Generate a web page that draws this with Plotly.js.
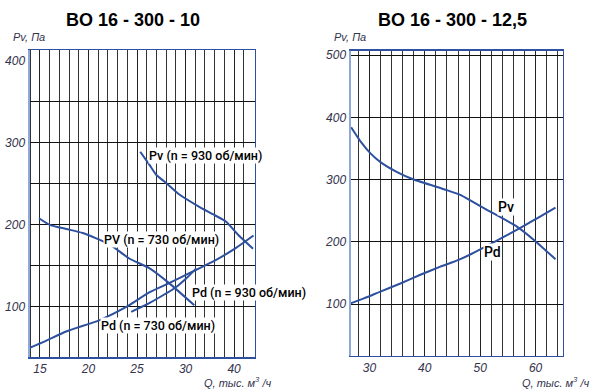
<!DOCTYPE html>
<html>
<head>
<meta charset="utf-8">
<script src="https://cdn.plot.ly/plotly-3.0.1.min.js"></script>
<style>html,body{margin:0;padding:0;background:#fff;}#chart{width:603px;height:389px;}</style>
</head>
<body>
<div id="chart"></div>
<script>
// ---- Left chart: ВО 16-300-10 ----
const leftTitle = "BO 16 - 300 - 10";
const pv930Q = [25.33, 26.28, 26.97, 28.0, 29.36, 31.41, 32.8, 34.15, 35.41, 36.95];
const pv930P = [289, 273, 261, 251, 237, 222, 213, 204, 188, 171];
const pv730Q = [14.9, 16.0, 17.7, 19.4, 22.2, 24.2, 26.3, 28.3, 30.9];
const pv730P = [208, 200, 195, 190, 176, 159, 147, 129, 102];
const pd930Q = [13.9, 15.5, 17.7, 21.15, 23.9, 26.3, 28.3, 30.7, 33.1, 35.2, 37.0];
const pd930P = [50, 58, 70, 84, 100, 118, 129, 143, 157, 172, 187];
const pd730Q = [24.4, 26.0, 27.5, 29.0, 30.0, 31.1];
const pd730P = [94, 103, 113, 124, 134, 147];
const leftXTickVals = [15, 20, 25, 30, 35];
const leftXTickText = ["15", "20", "25", "30", "40"];
const leftYTickVals = [100, 200, 300, 400];
const leftYGridVals = [100, 150, 200, 250, 300, 350];
const leftLabels = ["Pv (n = 930 об/мин)", "PV (n = 730 об/мин)", "Pd (n = 930 об/мин)", "Pd (n = 730 об/мин)"];

// ---- Right chart: ВО 16-300-12,5 ----
const rightTitle = "BO 16 - 300 - 12,5";
const pvQ = [26.7, 28.5, 30.2, 32.0, 35.0, 38.0, 44.0, 46.5, 48.3, 51.3, 56.7, 59.7, 63.6];
const pvP = [384, 360, 342, 328, 312, 300, 283, 275, 266, 251, 224, 203, 172];
const pdQ = [26.6, 29.0, 32.0, 35.6, 39.2, 42.8, 46.1, 48.3, 52.0, 57.0, 60.5, 63.6];
const pdP = [101, 109, 120, 133, 147, 160, 171, 180, 197, 221, 239, 255];
const rightXTickVals = [30, 40, 50, 60];
const rightYTickVals = [100, 200, 300, 400, 500];
const rightLabels = ["Pv", "Pd"];

const yTitle = "Pv, Па";
const xTitle = "Q, тыс. м<sup>3</sup> /ч";

const curveColor = "#2d509f";
const borderColor = "#2d509f";
const tickFont = {family: "Liberation Sans, Arial", size: 12, color: "#33334d", style: "italic"};
const labelFont = {family: "Roboto, Liberation Sans, Arial", size: 12.5, color: "#000", weight: 500};
const rightLabelFont = {family: "Roboto, Liberation Sans, Arial", size: 14, color: "#000", weight: 500};
const axTitleFont = {family: "Liberation Sans, Arial", size: 11, color: "#33334d", style: "italic"};
const titleFont = {family: "Liberation Sans, Arial", size: 18, color: "#000", weight: "bold"};

function line(x, y, xa, ya) {
  return {x: x, y: y, xaxis: xa, yaxis: ya, type: "scatter", mode: "lines",
    line: {color: curveColor, width: 2, shape: "spline", smoothing: 0.6}, hoverinfo: "skip", showlegend: false};
}

const data = [
  line(pv930Q, pv930P, "x", "y"),
  line(pv730Q, pv730P, "x", "y"),
  line(pd930Q, pd930P, "x", "y"),
  line(pd730Q, pd730P, "x", "y"),
  line(pvQ, pvP, "x2", "y2"),
  line(pdQ, pdP, "x2", "y2")
];

const common = {showline: true, mirror: true, linecolor: borderColor, linewidth: 1.5,
  zeroline: false, ticks: "", tickfont: tickFont, fixedrange: true};

function lbl(text, xr, yr, x, y, font) {
  return {text: text, xref: xr, yref: yr, x: x, y: y, xanchor: "left", yanchor: "middle", showarrow: false,
    bgcolor: "#fff", borderpad: 0, font: font || labelFont};
}
function ptxt(text, px, py, font) {
  return {text: text, xref: "paper", yref: "paper", x: px / 603, y: 1 - py / 389,
    xanchor: "center", yanchor: "middle", showarrow: false, font: font};
}

const layout = {
  width: 603, height: 389,
  margin: {l: 0, r: 0, t: 0, b: 0},
  paper_bgcolor: "#fff", plot_bgcolor: "#fff",
  showlegend: false,
  xaxis: Object.assign({}, common, {
    domain: [29 / 603, 254.5 / 603], anchor: "y",
    range: [13.87, 37.1], tickmode: "array", tickvals: leftXTickVals, ticktext: leftXTickText,
    showgrid: true, gridcolor: "#222", gridwidth: 1,
    minor: {dtick: 1, tick0: 0, showgrid: true, gridcolor: "#333", gridwidth: 1, ticks: ""}
  }),
  yaxis: Object.assign({}, common, {
    domain: [1 - 357 / 389, 1 - 50 / 389], anchor: "x",
    range: [39, 413], tickmode: "array", tickvals: leftYTickVals,
    showgrid: false,
    minor: {tickmode: "array", tickvals: leftYGridVals, showgrid: true, gridcolor: "#111", gridwidth: 1, ticks: ""}
  }),
  xaxis2: Object.assign({}, common, {
    domain: [350 / 603, 562.7 / 603], anchor: "y2",
    range: [26.5, 64.9], tickmode: "array", tickvals: rightXTickVals,
    showgrid: true, gridcolor: "#222", gridwidth: 1,
    minor: {dtick: 2, tick0: 0, showgrid: true, gridcolor: "#333", gridwidth: 1, ticks: ""}
  }),
  yaxis2: Object.assign({}, common, {
    domain: [1 - 355.7 / 389, 1 - 50.7 / 389], anchor: "x2",
    range: [17, 507], tickmode: "array", tickvals: rightYTickVals,
    showgrid: true, gridcolor: "#111", gridwidth: 1
  }),
  shapes: [
    {type: "line", xref: "x domain", yref: "y domain", x0: 0, x1: 0, y0: 0, y1: 1, line: {color: "#8ea8da", width: 2}},
    {type: "line", xref: "x2 domain", yref: "y2 domain", x0: 0, x1: 0, y0: 0, y1: 1, line: {color: "#8ea8da", width: 2}}
  ],
  annotations: [
    ptxt(leftTitle, 133, 20, titleFont),
    ptxt(rightTitle, 452, 20, titleFont),
    ptxt(yTitle, 29, 37, axTitleFont),
    ptxt(yTitle, 350, 37, axTitleFont),
    ptxt(xTitle, 237, 382, axTitleFont),
    ptxt(xTitle, 555, 382, axTitleFont),
    lbl(leftLabels[0], "x", "y", 26.08, 284),
    lbl(leftLabels[1], "x", "y", 21.46, 181.7),
    lbl(leftLabels[2], "x", "y", 30.59, 117),
    lbl(leftLabels[3], "x", "y", 21.15, 76.8),
    lbl(rightLabels[0], "x2", "y2", 52.97, 255.7, rightLabelFont),
    lbl(rightLabels[1], "x2", "y2", 50.6, 184, rightLabelFont)
  ]
};

Plotly.newPlot("chart", data, layout, {staticPlot: true, displayModeBar: false});
</script>
</body>
</html>
